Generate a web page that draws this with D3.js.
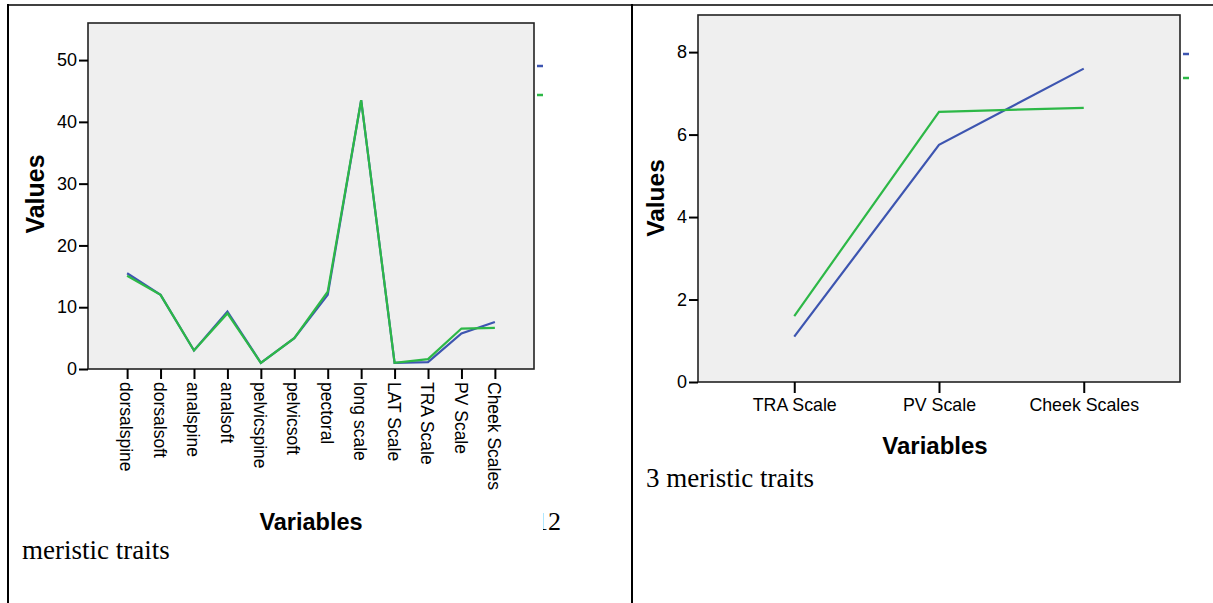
<!DOCTYPE html>
<meta charset="utf-8">
<style>
  body { margin: 0; background: #fff; }
  text { font-family: "Liberation Sans", Arial, sans-serif; fill: #000; }
  .serif { font-family: "Liberation Serif", "Times New Roman", serif; }
</style>
<svg width="1213" height="603"></svg>
<script src="https://d3js.org/d3.v7.min.js"></script>
<script>

var svg = d3.select("svg");

// left panel: 12 meristic traits
var leftCats = ["dorsalspine", "dorsalsoft", "analspine", "analsoft", "pelvicspine", "pelvicsoft",
                "pectoral", "long scale", "LAT Scale", "TRA Scale", "PV Scale", "Cheek Scales"];
var leftBlue  = [15.5, 12, 3, 9.3, 1, 5, 12, 43.5, 1, 1.1, 5.75, 7.6];
var leftGreen = [15.1, 12, 3, 9.0, 1, 5, 12.5, 43.5, 1, 1.6, 6.55, 6.65];
var leftTicks = [0, 10, 20, 30, 40, 50];

// right panel: 3 meristic traits
var rightCats  = ["TRA Scale", "PV Scale", "Cheek Scales"];
var rightBlue  = [1.1, 5.75, 7.6];
var rightGreen = [1.6, 6.55, 6.65];
var rightTicks = [0, 2, 4, 6, 8];

var blue = "#3d55b0";
var green = "#2db847";
var plotBg = "#efefef";

// table frame of the document
svg.append("line").attr("x1", 8).attr("x2", 1213).attr("y1", 5).attr("y2", 5)
    .attr("stroke", "#000").attr("stroke-width", 1.5);
svg.append("line").attr("x1", 8).attr("x2", 8).attr("y1", 4).attr("y2", 603)
    .attr("stroke", "#000").attr("stroke-width", 2);
svg.append("line").attr("x1", 632).attr("x2", 632).attr("y1", 4).attr("y2", 603)
    .attr("stroke", "#000").attr("stroke-width", 2);

function panel(o) {
  var g = svg.append("g");

  var x = d3.scalePoint().domain(o.cats).range([o.x0, o.x1]).padding(o.pad);
  var y = d3.scaleLinear().domain([0, o.ymax]).range([o.y1, o.y0]);

  g.append("rect")
      .attr("x", o.x0).attr("y", o.y0)
      .attr("width", o.x1 - o.x0).attr("height", o.y1 - o.y0)
      .attr("fill", plotBg).attr("stroke", "#222").attr("stroke-width", 1.6);

  // y axis
  var ya = g.append("g")
      .attr("transform", "translate(" + o.x0 + ",0)")
      .call(d3.axisLeft(y).tickValues(o.ticks).tickSize(9).tickPadding(2).tickSizeOuter(0));
  ya.select(".domain").remove();
  ya.selectAll(".tick line").attr("stroke", "#000").attr("stroke-width", 2);
  ya.selectAll(".tick text").style("font-size", "18px");

  // x axis
  var xa = g.append("g")
      .attr("transform", "translate(0," + o.y1 + ")")
      .call(d3.axisBottom(x).tickSize(o.tickLen).tickSizeOuter(0));
  xa.select(".domain").remove();
  xa.selectAll(".tick line").attr("stroke", "#000").attr("stroke-width", 2);
  if (o.rotate) {
    xa.selectAll(".tick text")
        .style("font-size", "17.5px")
        .attr("text-anchor", "start")
        .attr("y", 0).attr("dy", "0.42em")
        .attr("transform", "translate(0," + (o.tickLen + 3) + ") rotate(90)");
  } else {
    xa.selectAll(".tick text")
        .style("font-size", "17.8px")
        .attr("y", o.tickLen + 5);
  }

  var line = d3.line()
      .x(function(d, i) { return x(o.cats[i]); })
      .y(function(d) { return y(d); });

  g.append("path").datum(o.blue).attr("d", line)
      .attr("fill", "none").attr("stroke", blue).attr("stroke-width", 2.2);
  g.append("path").datum(o.green).attr("d", line)
      .attr("fill", "none").attr("stroke", green).attr("stroke-width", 2.2);

  // legend stubs (cut off in the document)
  g.append("line").attr("x1", o.x1 + 3).attr("x2", o.x1 + 9)
      .attr("y1", o.legY[0]).attr("y2", o.legY[0])
      .attr("stroke", blue).attr("stroke-width", 2.5);
  g.append("line").attr("x1", o.x1 + 3).attr("x2", o.x1 + 9)
      .attr("y1", o.legY[1]).attr("y2", o.legY[1])
      .attr("stroke", green).attr("stroke-width", 2.5);

  // axis titles
  g.append("text")
      .attr("transform", "translate(" + o.yTitle[0] + "," + o.yTitle[1] + ") rotate(-90)")
      .attr("text-anchor", "middle")
      .style("font-size", o.yTitleSize).style("font-weight", "bold")
      .text("Values");
  g.append("text")
      .attr("x", o.xTitle[0]).attr("y", o.xTitle[1])
      .attr("text-anchor", "middle")
      .style("font-size", o.xTitleSize).style("font-weight", "bold")
      .text("Variables");
}

panel({
  cats: leftCats, blue: leftBlue, green: leftGreen, ticks: leftTicks,
  x0: 88, x1: 534, y0: 23, y1: 369, ymax: 56, pad: 1.17,
  tickLen: 10, rotate: true, legY: [66, 95],
  yTitle: [44, 194], yTitleSize: "25px",
  xTitle: [311, 530], xTitleSize: "23.5px"
});

panel({
  cats: rightCats, blue: rightBlue, green: rightGreen, ticks: rightTicks,
  x0: 698, x1: 1180, y0: 15, y1: 382, ymax: 8.9, pad: 0.665,
  tickLen: 11, rotate: false, legY: [54, 78],
  yTitle: [664, 198], yTitleSize: "24.5px",
  xTitle: [935, 454], xTitleSize: "24px"
});

// figure captions from the document
svg.append("clipPath").attr("id", "cut12")
  .append("rect").attr("x", 543).attr("y", 500).attr("width", 40).attr("height", 40);
svg.append("text").attr("class", "serif")
    .attr("x", 561).attr("y", 530).attr("text-anchor", "end")
    .attr("clip-path", "url(#cut12)")
    .style("font-size", "26px").text("12");
svg.append("text").attr("class", "serif")
    .attr("x", 22).attr("y", 559)
    .style("font-size", "27px").text("meristic traits");
svg.append("text").attr("class", "serif")
    .attr("x", 646).attr("y", 487)
    .style("font-size", "27px").text("3 meristic traits");

</script>
